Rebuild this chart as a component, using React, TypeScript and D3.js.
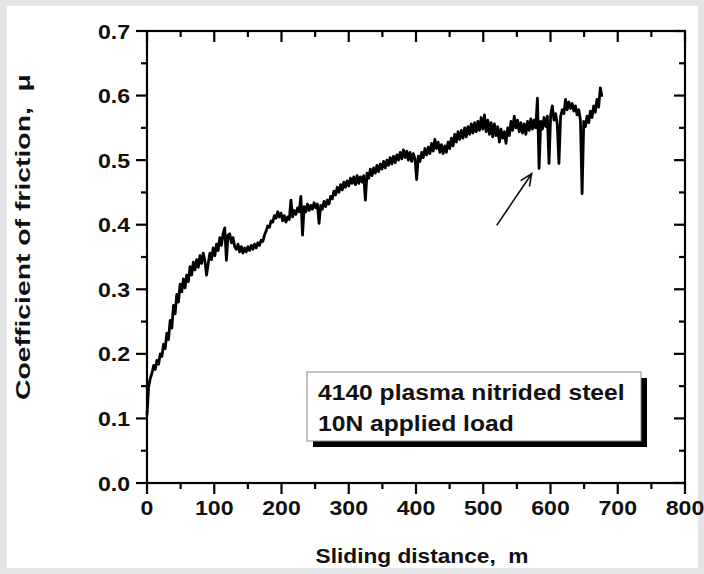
import React from "react";
import * as d3 from "d3";

// Sliding distance sampling step (m) and coefficient of friction readings
const STEP = 2.46;
const mu = [
  0.105, 0.150, 0.162, 0.170, 0.182, 0.176, 0.190, 0.184, 0.200, 0.196,
  0.215, 0.208, 0.232, 0.222, 0.252, 0.240, 0.275, 0.262, 0.292, 0.280,
  0.308, 0.296, 0.316, 0.302, 0.322, 0.312, 0.335, 0.322, 0.342, 0.330,
  0.346, 0.334, 0.352, 0.340, 0.356, 0.344, 0.322, 0.340, 0.356, 0.346,
  0.364, 0.352, 0.370, 0.360, 0.380, 0.368, 0.386, 0.395, 0.345, 0.384,
  0.386, 0.372, 0.380, 0.366, 0.362, 0.370, 0.358, 0.366, 0.356, 0.364,
  0.358, 0.366, 0.360, 0.368, 0.362, 0.370, 0.364, 0.372, 0.368, 0.376,
  0.374, 0.384, 0.390, 0.398, 0.396, 0.406, 0.404, 0.414, 0.410, 0.420,
  0.412, 0.418, 0.406, 0.414, 0.404, 0.412, 0.408, 0.438, 0.412, 0.422,
  0.416, 0.426, 0.420, 0.444, 0.384, 0.428, 0.420, 0.432, 0.422, 0.430,
  0.424, 0.434, 0.426, 0.432, 0.402, 0.430, 0.424, 0.436, 0.428, 0.438,
  0.432, 0.444, 0.440, 0.452, 0.446, 0.458, 0.450, 0.462, 0.454, 0.466,
  0.458, 0.468, 0.460, 0.472, 0.464, 0.474, 0.462, 0.476, 0.464, 0.474,
  0.466, 0.476, 0.438, 0.480, 0.472, 0.486, 0.476, 0.488, 0.480, 0.492,
  0.482, 0.494, 0.486, 0.498, 0.488, 0.500, 0.492, 0.504, 0.494, 0.506,
  0.496, 0.508, 0.500, 0.512, 0.502, 0.516, 0.504, 0.514, 0.500, 0.512,
  0.498, 0.510, 0.502, 0.470, 0.506, 0.498, 0.512, 0.504, 0.518, 0.508,
  0.520, 0.510, 0.526, 0.514, 0.532, 0.518, 0.528, 0.512, 0.524, 0.510,
  0.522, 0.512, 0.528, 0.518, 0.534, 0.522, 0.540, 0.528, 0.544, 0.532,
  0.546, 0.534, 0.550, 0.536, 0.552, 0.540, 0.556, 0.542, 0.558, 0.544,
  0.560, 0.546, 0.566, 0.548, 0.570, 0.544, 0.562, 0.540, 0.558, 0.536,
  0.556, 0.538, 0.552, 0.528, 0.548, 0.534, 0.544, 0.526, 0.550, 0.538,
  0.560, 0.546, 0.568, 0.550, 0.562, 0.544, 0.558, 0.542, 0.556, 0.540,
  0.560, 0.546, 0.564, 0.548, 0.562, 0.550, 0.596, 0.487, 0.560, 0.548,
  0.566, 0.552, 0.568, 0.495, 0.570, 0.584, 0.562, 0.572, 0.556, 0.495,
  0.568, 0.578, 0.572, 0.594, 0.578, 0.590, 0.580, 0.588, 0.576, 0.584,
  0.570, 0.578, 0.562, 0.448, 0.560, 0.552, 0.568, 0.558, 0.576, 0.566,
  0.584, 0.574, 0.594, 0.582, 0.612, 0.598,
];

const xMajor = [0, 100, 200, 300, 400, 500, 600, 700, 800];
const xMinor = [50, 150, 250, 350, 450, 550, 650, 750];
const yMajor = [0.0, 0.1, 0.2, 0.3, 0.4, 0.5, 0.6, 0.7];
const yMinor = [0.05, 0.15, 0.25, 0.35, 0.45, 0.55, 0.65];

const legendLines = ["4140 plasma nitrided steel", "10N applied load"];
const xTitle = "Sliding distance,  m";
const yTitle = "Coefficient of friction,  \u03bc";
// arrow annotation: tail and tip in data units (m, mu)
const arrowTail = [520, 0.399];
const arrowTip = [572, 0.479];

const W = 704;
const H = 574;
const L = 147, R = 685, T = 31, B = 483;
const FONT = "'Liberation Sans', Arial, Helvetica, sans-serif";

export default function App() {
  const x = d3.scaleLinear().domain([0, 800]).range([L, R]);
  const y = d3.scaleLinear().domain([0, 0.7]).range([B, T]);
  const pts: [number, number][] = mu.map((v, i) => [i * STEP, v]);
  const line = d3
    .line<[number, number]>()
    .x((d) => x(d[0]))
    .y((d) => y(d[1]));

  const majLen = 11;
  const minLen = 6;
  const tickW = 2.2;

  const ax1 = x(arrowTail[0]), ay1 = y(arrowTail[1]);
  const ax2 = x(arrowTip[0]), ay2 = y(arrowTip[1]);
  const ang = Math.atan2(ay2 - ay1, ax2 - ax1);
  const hl = 13, ha = 0.42;
  const h1 = [ax2 - hl * Math.cos(ang - ha), ay2 - hl * Math.sin(ang - ha)];
  const h2 = [ax2 - hl * Math.cos(ang + ha), ay2 - hl * Math.sin(ang + ha)];

  const sx = 1.1;

  return (
    <svg
      width={W}
      height={H}
      style={{ position: "fixed", left: 0, top: 0 }}
      fontFamily={FONT}
      fontWeight="bold"
    >
      <rect x={0} y={0} width={W} height={H} fill="#e4e5e7" />
      <rect x={7} y={6} width={W - 13} height={H - 12} fill="#ffffff" />

      {/* data trace */}
      <path d={line(pts) || ""} fill="none" stroke="#000" strokeWidth={2.8} strokeLinejoin="round" />

      {/* frame */}
      <rect x={L} y={T} width={R - L} height={B - T} fill="none" stroke="#000" strokeWidth={2.2} />

      {xMajor.map((v) => (
        <g key={"xM" + v}>
          <line x1={x(v)} x2={x(v)} y1={B} y2={B + majLen} stroke="#000" strokeWidth={tickW} />
          <line x1={x(v)} x2={x(v)} y1={T} y2={T + majLen} stroke="#000" strokeWidth={tickW} />
          <text
            transform={`translate(${x(v)},${515}) scale(${sx},1)`}
            textAnchor="middle"
            fontSize={21}
            fill="#111"
          >
            {v}
          </text>
        </g>
      ))}
      {xMinor.map((v) => (
        <g key={"xm" + v}>
          <line x1={x(v)} x2={x(v)} y1={B} y2={B + minLen} stroke="#000" strokeWidth={tickW} />
          <line x1={x(v)} x2={x(v)} y1={T} y2={T + minLen} stroke="#000" strokeWidth={tickW} />
        </g>
      ))}

      {yMajor.map((v) => (
        <g key={"yM" + v}>
          <line x1={L - majLen} x2={L} y1={y(v)} y2={y(v)} stroke="#000" strokeWidth={tickW} />
          <line x1={R - majLen} x2={R} y1={y(v)} y2={y(v)} stroke="#000" strokeWidth={tickW} />
          <text
            transform={`translate(${130},${y(v) + 7.5}) scale(${sx},1)`}
            textAnchor="end"
            fontSize={21}
            fill="#111"
          >
            {v.toFixed(1)}
          </text>
        </g>
      ))}
      {yMinor.map((v) => (
        <g key={"ym" + v}>
          <line x1={L - minLen} x2={L} y1={y(v)} y2={y(v)} stroke="#000" strokeWidth={tickW} />
          <line x1={R - minLen} x2={R} y1={y(v)} y2={y(v)} stroke="#000" strokeWidth={tickW} />
        </g>
      ))}

      <text
        transform={`translate(${422},${563}) scale(1.08,1)`}
        textAnchor="middle"
        fontSize={21}
        fill="#111"
        style={{ whiteSpace: "pre" }}
      >
        {xTitle}
      </text>
      <text
        transform={`translate(${30},${400}) rotate(-90) scale(1.35,1)`}
        textAnchor="start"
        fontSize={21}
        fill="#111"
        style={{ whiteSpace: "pre" }}
      >
        {yTitle}
      </text>

      {/* legend box with shadow */}
      <rect x={313} y={378} width={334} height={69} fill="#000" />
      <rect x={307} y={372} width={334} height={69} fill="#fff" stroke="#888" strokeWidth={1} />
      {legendLines.map((t, i) => (
        <text
          key={t}
          transform={`translate(${318},${400 + i * 31}) scale(1.12,1)`}
          fontSize={22}
          fill="#111"
        >
          {t}
        </text>
      ))}

      <line x1={ax1} y1={ay1} x2={ax2} y2={ay2} stroke="#111" strokeWidth={1.6} />
      <polyline
        points={`${h1[0]},${h1[1]} ${ax2},${ay2} ${h2[0]},${h2[1]}`}
        fill="none"
        stroke="#111"
        strokeWidth={1.6}
      />
    </svg>
  );
}
